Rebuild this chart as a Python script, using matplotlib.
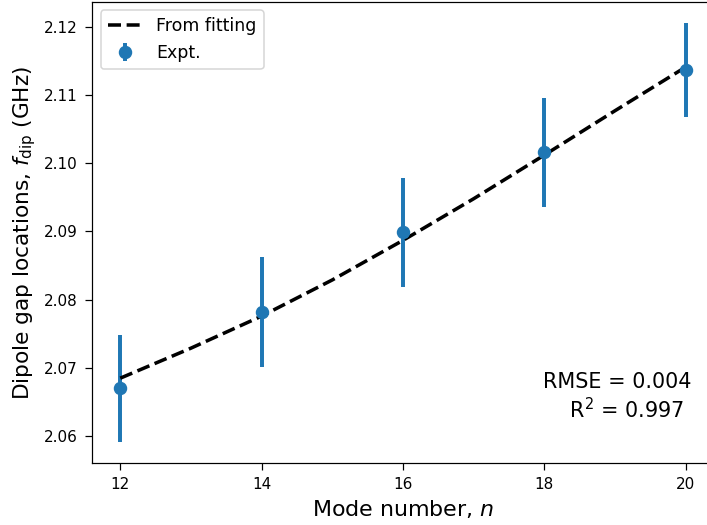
import numpy as np
import matplotlib
matplotlib.use('Agg')
import matplotlib.pyplot as plt

# measured dipole gaps
mode_n = [12, 14, 16, 18, 20]
f_dip = [2.0670, 2.0782, 2.0899, 2.1016, 2.1137]
f_err = [0.0079, 0.0080, 0.0080, 0.0080, 0.0069]

# fitted curve
fit_n = [12, 13, 14, 15, 16, 17, 18, 19, 20]
fit_f = [2.0685, 2.0729, 2.0776, 2.0829, 2.0887, 2.0948, 2.1012, 2.1077, 2.1141]

rmse = 0.004
r2 = 0.997

dpi = 110
fig = plt.figure(figsize=(707/dpi, 525/dpi), dpi=dpi)
ax = fig.add_axes([92/707, (525-463.3)/525, (714-92)/707, (463.3-1.7)/525])

ax.errorbar(mode_n, f_dip, yerr=f_err, fmt='o', color='#1f77b4', ms=7.8,
            elinewidth=2.6, capsize=0, label='Expt.')
ax.plot(fit_n, fit_f, 'k--', lw=2.3, label='From fitting')

ax.set_xticks([12, 14, 16, 18, 20])
ax.tick_params(length=4.6, pad=4.6)
ax.set_xlabel('Mode number, $n$', fontsize=14.5)
ax.set_ylabel(r'Dipole gap locations, $f_{\mathrm{dip}}$ (GHz)', fontsize=14.2)
ax.legend(loc='upper left', fontsize=11.4)

ax.text(0.725, 0.09, f'RMSE = {rmse}\n    R$^2$ = {r2}', transform=ax.transAxes,
        fontsize=13.6, ha='left', va='bottom')

fig.savefig('out.png', dpi=dpi)
